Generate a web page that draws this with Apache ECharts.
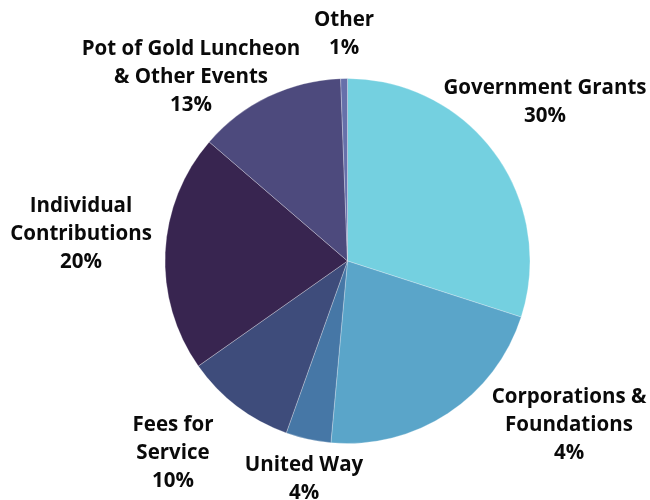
<!DOCTYPE html>
<html><head><meta charset="utf-8">
<script src="https://cdn.jsdelivr.net/npm/echarts@6/dist/echarts.min.js"></script>
<style>html,body{margin:0;padding:0;background:#fff}#c{width:650px;height:500px}</style>
</head><body><div id="c"></div>
<script>
var categories = ['Government Grants', 'Corporations &\nFoundations', 'United Way', 'Fees for\nService', 'Individual\nContributions', 'Pot of Gold Luncheon\n& Other Events', 'Other'];
var values = [30, 21.5, 4, 9.8, 21.1, 13.1, 0.6];
var pctLabels = ['30%', '4%', '4%', '10%', '20%', '13%', '1%'];
var colors = ['#74D0E0', '#5AA5C9', '#4677A6', '#3E4C7B', '#382550', '#4D4A7D', '#6670AA'];

// label block centres (layout only)
var labelCentres = [[545, 102], [569, 425], [304, 479], [173, 453], [81, 234], [191, 77], [344, 34]];

var chart = echarts.init(document.getElementById('c'));
chart.setOption({
  animation: false,
  series: [{
    type: 'pie',
    center: [347.5, 261],
    radius: [0, 182.5],
    startAngle: 90,
    clockwise: true,
    data: categories.map(function (n, i) {
      return { name: n, value: values[i], itemStyle: { color: colors[i] } };
    }),
    itemStyle: { borderColor: 'rgba(255,255,255,0.45)', borderWidth: 0.6 },
    label: {
      show: true,
      position: 'outside',
      formatter: function (p) { return p.name + '\n' + pctLabels[p.dataIndex]; },
      fontFamily: 'Open Sans',
      fontWeight: 'bold',
      fontSize: 20.5,
      lineHeight: 28,
      color: '#0a0a0a',
      align: 'center',
      overflow: 'none'
    },
    labelLine: { show: false },
    labelLayout: function (p) {
      var c = labelCentres[p.dataIndex];
      return { x: c[0], y: c[1], align: 'center', verticalAlign: 'middle' };
    }
  }]
});
</script></body></html>
